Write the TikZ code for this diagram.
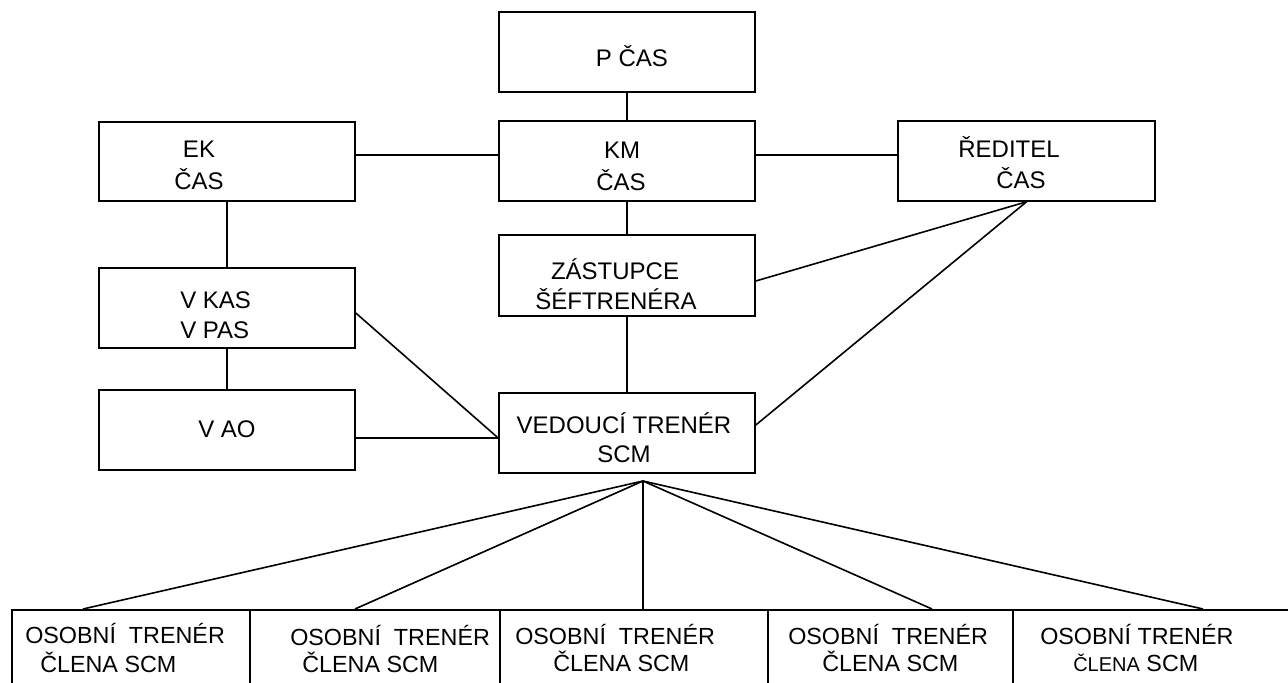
\documentclass[tikz,border=0pt]{standalone}
\usepackage{fontspec}
\setmainfont{Liberation Sans}
\usetikzlibrary{calc}
\begin{document}
\begin{tikzpicture}[x=0.75pt,y=-0.75pt,
  box/.style={draw,line width=1.2pt,inner sep=0pt,minimum width=192pt,minimum height=60pt},
  obox/.style={draw,line width=1.2pt,inner sep=0pt,minimum height=75pt,anchor=north west},
  lbl/.style={anchor=base,inner sep=0pt,font=\fontsize{18}{21}\selectfont},
  lblw/.style={anchor=base west,inner sep=0pt,font=\fontsize{17.5}{21}\selectfont},
  conn/.style={line width=1.2pt}]
\clip (0,0) rectangle (1288,682);
\fill[white] (0,0) rectangle (1288,682);

% upper boxes
\node[box] (p) at (627,52) {};
\node[box] (km) at (627,161) {};
\node[box,minimum height=60.75pt] (zas) at (627,275.5) {};
\node[box] (ved) at (627,433) {};
\node[box,minimum height=59.25pt] (ek) at (227,161.5) {};
\node[box] (vkas) at (227,308) {};
\node[box] (vao) at (227,430) {};
\node[box,minimum width=192.75pt] (red) at (1026.5,161) {};

% texts
\node[lbl] (tp) at (632,66) {P ČAS};
\node[lbl] (tkm1) at (622,158) {KM};
\node[lbl] (tkm2) at (621,190) {ČAS};
\node[lbl] (tek1) at (199,157) {EK};
\node[lbl] (tek2) at (199,189) {ČAS};
\node[lbl,anchor=base west] (tvk1) at (180,308) {V KAS};
\node[lbl,anchor=base west] (tvk2) at (180,338) {V PAS};
\node[lbl] (tvao) at (227,437) {V AO};
\node[lbl] (tz1) at (615,279) {ZÁSTUPCE};
\node[lbl] (tz2) at (616,309) {ŠÉFTRENÉRA};
\node[lbl] (tv1) at (624,433) {VEDOUCÍ TRENÉR};
\node[lbl] (tv2) at (624,462) {SCM};
\node[lbl] (tr1) at (1009,157) {ŘEDITEL};
\node[lbl] (tr2) at (1021,188) {ČAS};

% bottom boxes
\node[obox,minimum width=178.5pt] (o1) at (11,609) {};
\node[obox,minimum width=187.5pt] (o2) at (249,609) {};
\node[obox,minimum width=201pt] (o3) at (499,609) {};
\node[obox,minimum width=183.75pt] (o4) at (767,609) {};
\node[obox,minimum width=225pt] (o5) at (1012,609) {};

\node[lblw] (to1a) at (25,643) {OSOBNÍ\ \ TRENÉR};
\node[lblw] (to1b) at (40,672) {ČLENA SCM};
\node[lblw] (to2a) at (290,645) {OSOBNÍ\ \ TRENÉR};
\node[lblw] (to2b) at (302,672) {ČLENA SCM};
\node[lblw] (to3a) at (515,644) {OSOBNÍ\ \ TRENÉR};
\node[lblw] (to3b) at (553,671) {ČLENA SCM};
\node[lblw] (to4a) at (788,644) {OSOBNÍ\ \ TRENÉR};
\node[lblw] (to4b) at (822,671) {ČLENA SCM};
\node[lblw] (to5a) at (1040,644) {OSOBNÍ TRENÉR};
\node[lblw] (to5b) at (1073,671) {{\fontsize{15}{18}\selectfont ČLENA} SCM};

% connectors
\draw[conn] (p.south) -- (km.north);
\draw[conn] (km.south) -- (zas.north);
\draw[conn] (zas.south) -- (ved.north);
\draw[conn] ($(ek.east)+(0,-6.5)$) -- ($(km.west)+(0,-6)$);
\draw[conn] ($(km.east)+(0,-6)$) -- ($(red.west)+(0,-6)$);
\draw[conn] (ek.south) -- (vkas.north);
\draw[conn] (vkas.south) -- (vao.north);
\draw[conn] ($(vao.east)+(0,8)$) -- ($(ved.west)+(0,5)$);
\draw[conn] ($(vkas.east)+(0,5)$) -- ($(ved.west)+(0,5)$);
\draw[conn] (red.south) -- ($(zas.east)+(0,5.5)$);
\draw[conn] (red.south) -- ($(ved.east)+(0,-8)$);

\coordinate (apex) at (643,481);
\draw[conn] (apex) -- ($(o1.north west)+(72,0)$);
\draw[conn] (apex) -- ($(o2.north west)+(106,0)$);
\draw[conn] (apex) -- ($(o3.north west)+(144,0)$);
\draw[conn] (apex) -- ($(o4.north west)+(165,0)$);
\draw[conn] (apex) -- ($(o5.north west)+(191,0)$);
\end{tikzpicture}
\end{document}
